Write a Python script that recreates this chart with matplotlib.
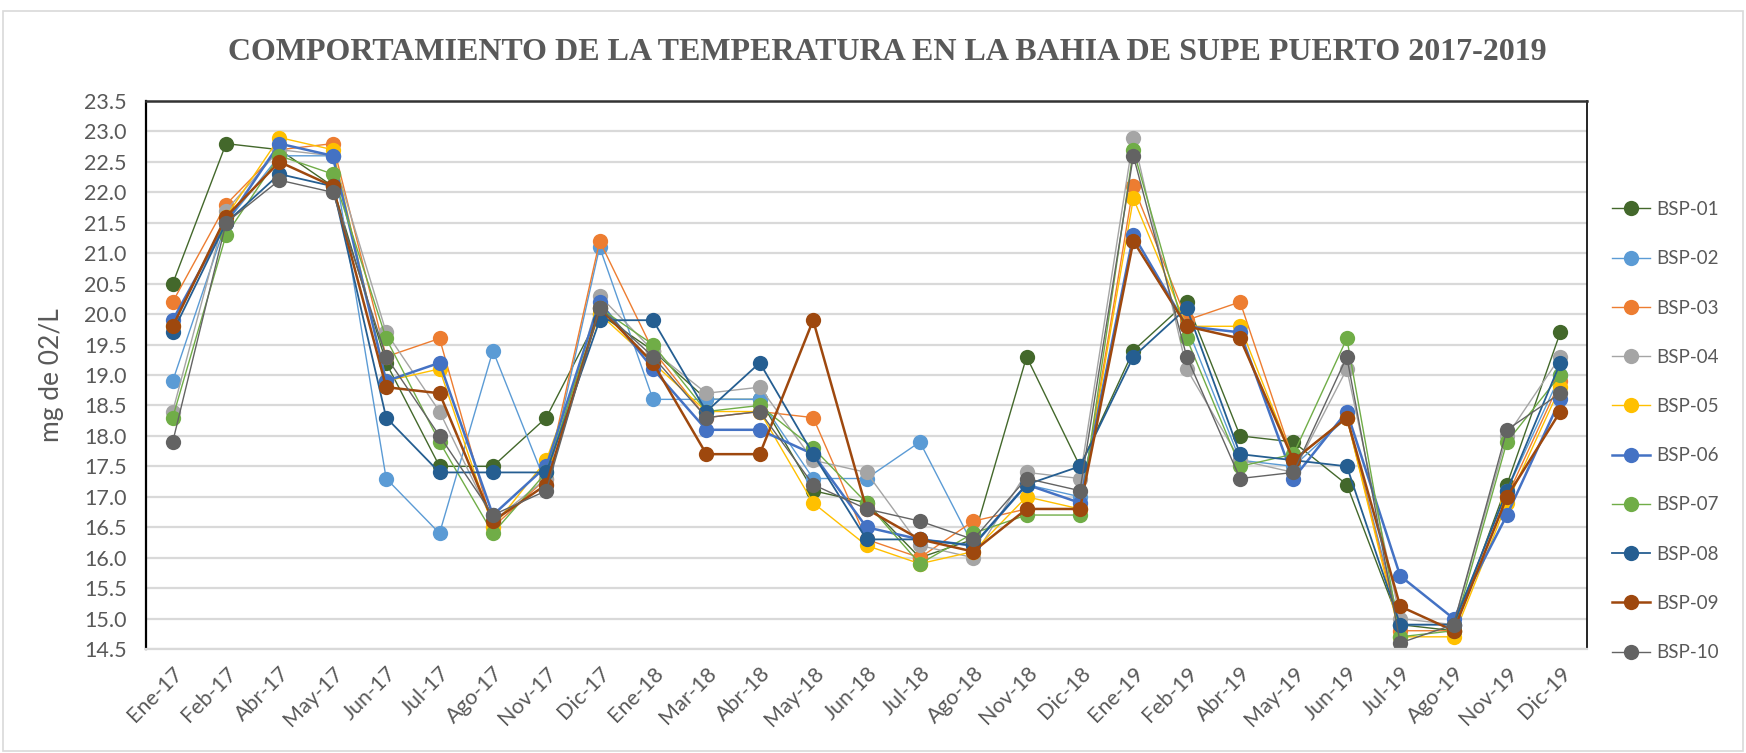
import matplotlib
matplotlib.use("Agg")
import matplotlib.pyplot as plt
from matplotlib.patches import Rectangle

# Categories (sampling months)
months = ["Ene-17", "Feb-17", "Abr-17", "May-17", "Jun-17", "Jul-17", "Ago-17",
          "Nov-17", "Dic-17", "Ene-18", "Mar-18", "Abr-18", "May-18", "Jun-18",
          "Jul-18", "Ago-18", "Nov-18", "Dic-18", "Ene-19", "Feb-19", "Abr-19",
          "May-19", "Jun-19", "Jul-19", "Ago-19", "Nov-19", "Dic-19"]

# Values per station
bsp01 = [20.5, 22.8, 22.7, 22.1, 19.2, 17.5, 17.5, 18.3, 20.0, 19.4, 18.6, 18.6, 17.1, 16.9,
         16.0, 16.3, 19.3, 17.5, 19.4, 20.2, 18.0, 17.9, 17.2, 14.9, 14.8, 17.2, 19.7]
bsp02 = [18.9, 21.5, 22.6, 22.6, 17.3, 16.4, 19.4, 17.2, 21.1, 18.6, 18.6, 18.6, 17.3, 17.3,
         17.9, 16.2, 17.2, 17.0, 21.2, 19.8, 17.6, 17.5, 18.3, 14.9, 14.9, 17.1, 19.0]
bsp03 = [20.2, 21.8, 22.7, 22.8, 19.3, 19.6, 16.5, 17.3, 21.2, 19.4, 18.3, 18.4, 18.3, 16.3,
         16.0, 16.6, 16.8, 16.8, 22.1, 19.9, 20.2, 17.6, 18.3, 14.8, 14.8, 17.0, 18.9]
bsp04 = [18.4, 21.7, 22.7, 22.6, 19.7, 18.4, 16.6, 17.3, 20.3, 19.4, 18.7, 18.8, 17.6, 17.4,
         16.2, 16.0, 17.4, 17.3, 22.9, 19.1, 17.6, 17.4, 19.1, 15.0, 14.9, 18.0, 19.3]
bsp05 = [19.8, 21.6, 22.9, 22.7, 18.9, 19.1, 16.5, 17.6, 20.0, 19.2, 18.4, 18.4, 16.9, 16.2,
         15.9, 16.1, 17.0, 16.8, 21.9, 19.8, 19.8, 17.6, 18.3, 14.7, 14.7, 16.9, 18.8]
bsp06 = [19.9, 21.5, 22.8, 22.6, 18.9, 19.2, 16.7, 17.5, 20.2, 19.1, 18.1, 18.1, 17.7, 16.5,
         16.3, 16.2, 17.2, 16.9, 21.3, 19.8, 19.7, 17.3, 18.4, 15.7, 15.0, 16.7, 18.6]
bsp07 = [18.3, 21.3, 22.6, 22.3, 19.6, 17.9, 16.4, 17.4, 20.1, 19.5, 18.4, 18.5, 17.8, 16.9,
         15.9, 16.4, 16.7, 16.7, 22.7, 19.6, 17.5, 17.7, 19.6, 14.7, 14.8, 17.9, 19.0]
bsp08 = [19.7, 21.5, 22.3, 22.1, 18.3, 17.4, 17.4, 17.4, 19.9, 19.9, 18.4, 19.2, 17.7, 16.3,
         16.3, 16.2, 17.2, 17.5, 19.3, 20.1, 17.7, 17.6, 17.5, 14.9, 14.9, 17.1, 19.2]
bsp09 = [19.8, 21.6, 22.5, 22.1, 18.8, 18.7, 16.6, 17.2, 20.1, 19.2, 17.7, 17.7, 19.9, 16.8,
         16.3, 16.1, 16.8, 16.8, 21.2, 19.8, 19.6, 17.6, 18.3, 15.2, 14.8, 17.0, 18.4]
bsp10 = [17.9, 21.5, 22.2, 22.0, 19.3, 18.0, 16.7, 17.1, 20.1, 19.3, 18.3, 18.4, 17.2, 16.8,
         16.6, 16.3, 17.3, 17.1, 22.6, 19.3, 17.3, 17.4, 19.3, 14.6, 14.9, 18.1, 18.7]

stations = ["BSP-01", "BSP-02", "BSP-03", "BSP-04", "BSP-05",
            "BSP-06", "BSP-07", "BSP-08", "BSP-09", "BSP-10"]
series = [bsp01, bsp02, bsp03, bsp04, bsp05, bsp06, bsp07, bsp08, bsp09, bsp10]
colors = ["#43682B", "#5B9BD5", "#ED7D31", "#A5A5A5", "#FFC000",
          "#4472C4", "#70AD47", "#255E91", "#9E480E", "#636363"]
widths = [1.0, 1.0, 1.0, 1.0, 1.0, 1.8, 1.0, 1.3, 1.8, 1.0]

text_color = "#595959"
plt.rcParams["font.family"] = ["Lato", "DejaVu Sans"]

fig = plt.figure(figsize=(17.46, 7.53), dpi=100)
ax = fig.add_axes([146 / 1746, 1 - 649 / 753, (1587 - 146) / 1746, (649 - 101) / 753])

x = list(range(len(months)))
for name, vals, c, lw in zip(stations, series, colors, widths):
    ax.plot(x, vals, color=c, linewidth=lw, marker="o", markersize=11,
            markeredgewidth=0, label=name)

ax.set_xlim(-0.5, len(months) - 0.5)
ax.set_ylim(14.5, 23.5)
ax.set_yticks([14.5 + 0.5 * i for i in range(19)])
ax.set_yticklabels([f"{14.5 + 0.5 * i:.1f}" for i in range(19)])
ax.set_xticks(x)
ax.set_xticklabels(months, rotation=45, ha="right", rotation_mode="anchor")
ax.tick_params(axis="both", length=0, labelsize=15.5, labelcolor=text_color)
ax.tick_params(axis="y", pad=14)
ax.tick_params(axis="x", pad=10)

ax.grid(axis="y", color="#D9D9D9", linewidth=1.6)
ax.set_axisbelow(True)
ax.spines["top"].set_color("#333333")
ax.spines["top"].set_linewidth(1.8)
ax.spines["left"].set_color("black")
ax.spines["left"].set_linewidth(1.6)
ax.spines["right"].set_color("black")
ax.spines["right"].set_linewidth(1.2)
ax.spines["bottom"].set_color("#D9D9D9")
ax.spines["bottom"].set_linewidth(1.6)

ax.set_ylabel("mg de 02/L", fontsize=19, color=text_color, labelpad=14)

fig.text(0.508, 1 - 52 / 753,
         "COMPORTAMIENTO DE LA TEMPERATURA EN LA BAHIA DE SUPE PUERTO 2017-2019",
         ha="center", va="center", fontsize=23, fontweight="bold",
         family="Liberation Serif", color=text_color)

ax.legend(loc="upper left", bbox_to_anchor=(1612 / 1746, 1 - 201 / 753),
          bbox_transform=fig.transFigure, frameon=False,
          fontsize=13.5, labelcolor=text_color, handlelength=2.0,
          labelspacing=1.72, borderaxespad=0, borderpad=0, handletextpad=0.35)

# outer chart border
fig.patches.append(Rectangle((0.002, 0.002), 0.996, 0.984, transform=fig.transFigure,
                             fill=False, edgecolor="#D9D9D9", linewidth=1.2))

fig.savefig("out.png", dpi=100)
